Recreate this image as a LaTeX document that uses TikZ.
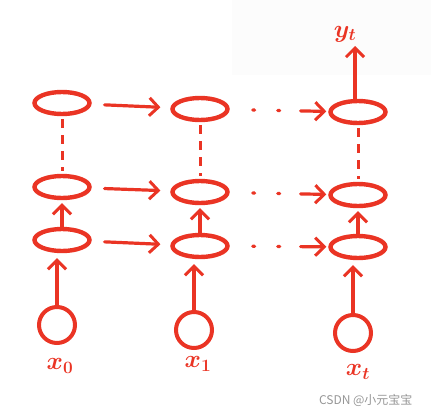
\documentclass[tikz,border=0pt]{standalone}
\usepackage{fontspec}
\newfontfamily\cjkfont{Noto Sans CJK SC}
\usetikzlibrary{arrows.meta,calc,shapes.geometric}
\definecolor{pen}{RGB}{234,52,36}
\definecolor{wm}{RGB}{150,150,150}
\definecolor{faint}{RGB}{252,252,252}
\tikzset{
  cell/.style={draw=pen,line width=4.4pt,ellipse,minimum width=55pt,minimum height=22pt,inner sep=0pt},
  inp/.style={draw=pen,line width=4pt,circle,minimum size=36pt,inner sep=0pt},
  lab/.style={text=pen,font=\boldmath\fontsize{24}{26}\selectfont},
  arr/.style={draw=pen,line width=3.2pt,line cap=round,-{Straight Barb[length=9pt,width=18pt,line width=3pt]}},
  farr/.style={arr,dash pattern=on 2pt off 23pt on 2pt off 21pt on 30pt off 200pt},
  vdash/.style={draw=pen,line width=3pt,dash pattern=on 9pt off 7pt},
}
\begin{document}
\begin{tikzpicture}[x=1pt,y=-1pt]
\useasboundingbox (0,0) rectangle (431,415);
\fill[faint] (232,0) rectangle (431,75);
% cells
\node[cell] (a0) at (62,103) {};
\node[cell] (a1) at (200,109) {};
\node[cell] (a2) at (358,112) {};
\node[cell] (b0) at (62,187) {};
\node[cell] (b1) at (200,192) {};
\node[cell] (b2) at (358,195) {};
\node[cell] (c0) at (62,240) {};
\node[cell] (c1) at (200,246) {};
\node[cell] (c2) at (358,247) {};
% inputs
\node[inp] (i0) at (57,325) {};
\node[inp] (i1) at (194,330) {};
\node[inp] (i2) at (353,333) {};
% labels
\node[lab] (x0) at (60,366) {$x_0$};
\node[lab] (x1) at (198,364) {$x_1$};
\node[lab] (xt) at (358,372) {$x_t$};
\node[lab] (yt) at (345,34) {$y_t$};
\coordinate (ytop) at (355,46);
% horizontal connections
\draw[arr,shorten <=13pt,shorten >=10pt] (a0) -- (a1);
\draw[arr,shorten <=13pt,shorten >=10pt] (b0) -- (b1);
\draw[arr,shorten <=13pt,shorten >=10pt] (c0) -- (c1);
\draw[farr,shorten <=23pt,shorten >=2pt] (a1) -- (a2);
\draw[farr,shorten <=23pt,shorten >=2pt] (b1) -- (b2);
\draw[farr,shorten <=23pt,shorten >=2pt] (c1) -- (c2);
% vertical connections
\draw[vdash,shorten <=3pt,shorten >=3pt] (a0) -- (b0);
\draw[vdash,shorten <=3pt,shorten >=3pt] (a1) -- (b1);
\draw[vdash,shorten <=3pt,shorten >=3pt] (a2) -- (b2);
\draw[arr,shorten >=3pt] (c0) -- (b0);
\draw[arr,shorten >=3pt] (c1) -- (b1);
\draw[arr,shorten >=3pt] (c2) -- (b2);
\draw[arr,shorten >=5pt] (i0.north) -- (i0.north |- c0.south);
\draw[arr,shorten >=5pt] (i1.north) -- (i1.north |- c1.south);
\draw[arr,shorten >=5pt] (i2.north) -- (i2.north |- c2.south);
\draw[arr] (a2.north -| ytop) -- (ytop);
% watermark
\node[text=wm,font=\cjkfont\fontsize{12}{14}\selectfont,anchor=east] (wmk) at (416,400) {CSDN @小元宝宝};
\end{tikzpicture}
\end{document}
